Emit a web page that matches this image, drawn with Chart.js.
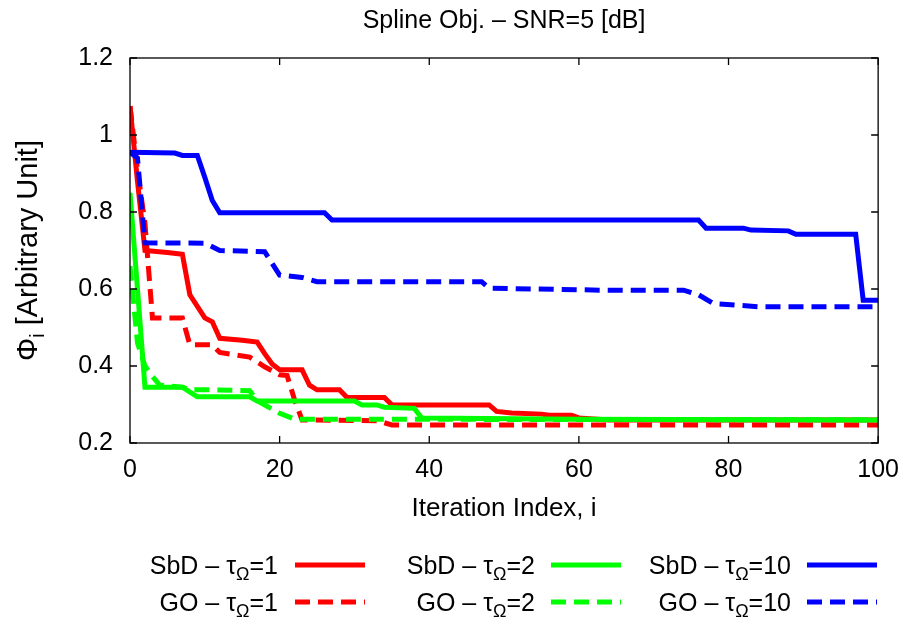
<!DOCTYPE html>
<html>
<head>
<meta charset="utf-8">
<title>Spline Obj. – SNR=5 [dB]</title>
<script src="https://cdn.jsdelivr.net/npm/chart.js@4.4.1/dist/chart.umd.min.js"></script>
<style>
  html, body { margin: 0; padding: 0; background: #fff; }
  #wrap { width: 911px; height: 624px; }
</style>
</head>
<body>
<div id="wrap"><canvas id="chart" width="911" height="624"></canvas></div>
<script>
// ── Data ──────────────────────────────────────────────────────────────────────

const sbd1Iter  = [0, 1, 2, 5, 7, 8, 10, 11, 12, 15, 17, 18, 19, 20, 23, 24, 25, 28, 29, 34, 35, 48, 49, 51, 55, 56, 59, 60, 64, 100];
const sbd1Val   = [1.075, 0.88, 0.70, 0.695, 0.69, 0.585, 0.525, 0.515, 0.472, 0.467, 0.462, 0.432, 0.405, 0.39, 0.39, 0.35, 0.338, 0.338, 0.318, 0.318, 0.299, 0.299, 0.282, 0.278, 0.275, 0.272, 0.272, 0.265, 0.26, 0.26];

const go1Iter   = [0, 1, 2, 3, 7, 8, 11, 12, 16, 18, 20, 21, 22, 23, 33, 35, 100];
const go1Val    = [1.075, 0.91, 0.77, 0.525, 0.525, 0.455, 0.455, 0.435, 0.423, 0.398, 0.377, 0.375, 0.312, 0.26, 0.258, 0.247, 0.247];

const sbd2Iter  = [0, 1, 2, 7, 9, 16, 17, 30, 31, 33, 34, 38, 39, 60, 100];
const sbd2Val   = [0.85, 0.60, 0.345, 0.345, 0.32, 0.32, 0.309, 0.309, 0.299, 0.299, 0.293, 0.29, 0.265, 0.262, 0.26];

const go2Iter   = [0, 1, 2, 3, 4, 7, 8, 11, 16, 17, 20, 22, 100];
const go2Val    = [0.66, 0.46, 0.40, 0.373, 0.35, 0.345, 0.338, 0.338, 0.336, 0.31, 0.277, 0.262, 0.26];

const sbd10Iter = [0, 6, 7, 9, 10, 11, 12, 26, 27, 76, 77, 82, 83, 88, 89, 97, 98, 100];
const sbd10Val  = [0.955, 0.953, 0.947, 0.947, 0.89, 0.83, 0.798, 0.798, 0.779, 0.779, 0.758, 0.758, 0.753, 0.751, 0.742, 0.742, 0.571, 0.571];

const go10Iter  = [0, 1, 2, 10, 12, 18, 20, 23, 25, 47, 48, 63, 74, 76, 78, 84, 100];
const go10Val   = [0.955, 0.94, 0.72, 0.719, 0.70, 0.697, 0.636, 0.630, 0.619, 0.619, 0.602, 0.597, 0.597, 0.585, 0.562, 0.554, 0.554];

const xTicks = [0, 20, 40, 60, 80, 100];
const yTicks = [0.2, 0.4, 0.6, 0.8, 1.0, 1.2];

// legend pieces: method – τ_Ω = value
const seriesMethod = ['SbD', 'GO', 'SbD', 'GO', 'SbD', 'GO'];
const seriesTau    = ['1', '1', '2', '2', '10', '10'];

const TITLE = 'Spline Obj. – SNR=5 [dB]';

// ── Style ─────────────────────────────────────────────────────────────────────

const FONT = '"Liberation Sans", Arial, Helvetica, sans-serif';
const RED = '#ff0000', GREEN = '#00ff00', BLUE = '#0000ff';
const DASH = [15, 8];

const LEG_TEXT_RIGHT = [278, 535, 791];
const LEG_LINE_X     = [295, 551, 807];
const LEG_LINE_LEN   = 70;
const LEG_ROW_Y      = [565, 602];

Chart.defaults.font.family = FONT;
Chart.defaults.color = '#000';

const pts = (xs, ys) => xs.map((x, k) => ({ x, y: ys[k] }));

function mkSet(label, xs, ys, color, dashed, order) {
  return {
    label,
    data: pts(xs, ys),
    borderColor: color,
    backgroundColor: color,
    borderWidth: 5,
    borderDash: dashed ? DASH : [],
    pointRadius: 0,
    tension: 0,
    fill: false,
    order,
  };
}

// ── Plugins ───────────────────────────────────────────────────────────────────

// box border + inward tick marks on all four sides
const framePlugin = {
  id: 'frame',
  afterDatasetsDraw(chart) {
    const { ctx, chartArea: a, scales: { x, y } } = chart;
    const tl = 7;
    ctx.save();
    ctx.strokeStyle = '#000';
    ctx.lineWidth = 1.3;
    ctx.strokeRect(a.left, a.top, a.right - a.left, a.bottom - a.top);
    ctx.beginPath();
    x.ticks.forEach(t => {
      const px = x.getPixelForValue(t.value);
      ctx.moveTo(px, a.bottom); ctx.lineTo(px, a.bottom - tl);
      ctx.moveTo(px, a.top);    ctx.lineTo(px, a.top + tl);
    });
    y.ticks.forEach(t => {
      const py = y.getPixelForValue(t.value);
      ctx.moveTo(a.left, py);  ctx.lineTo(a.left + tl, py);
      ctx.moveTo(a.right, py); ctx.lineTo(a.right - tl, py);
    });
    ctx.stroke();
    ctx.restore();
  },
};

// text with a subscript, drawn left-to-right from x (baseline y)
function drawSubText(ctx, parts, x, y) {
  let cx = x;
  parts.forEach(p => {
    ctx.font = `${p.size}px ${FONT}`;
    ctx.fillText(p.t, cx, y + (p.dy || 0));
    cx += ctx.measureText(p.t).width;
  });
}
function measureSubText(ctx, parts) {
  return parts.reduce((w, p) => {
    ctx.font = `${p.size}px ${FONT}`;
    return w + ctx.measureText(p.t).width;
  }, 0);
}

// title centred over the plot box, not the canvas
const titlePlugin = {
  id: 'plotTitle',
  afterDraw(chart) {
    const { ctx, chartArea: a } = chart;
    ctx.save();
    ctx.fillStyle = '#000';
    ctx.font = `25px ${FONT}`;
    ctx.textAlign = 'center';
    ctx.textBaseline = 'middle';
    ctx.fillText(TITLE, (a.left + a.right) / 2, 21);
    ctx.restore();
  },
};

const yTitlePlugin = {
  id: 'yTitle',
  afterDraw(chart) {
    const { ctx, chartArea: a } = chart;
    const parts = [
      { t: 'Φ', size: 29 },
      { t: 'i', size: 20, dy: 7 },
      { t: ' [Arbitrary Unit]', size: 29 },
    ];
    ctx.save();
    ctx.translate(37, (a.top + a.bottom) / 2);
    ctx.rotate(-Math.PI / 2);
    ctx.fillStyle = '#000';
    ctx.textAlign = 'left';
    ctx.textBaseline = 'alphabetic';
    const w = measureSubText(ctx, parts);
    drawSubText(ctx, parts, -w / 2, 0);
    ctx.restore();
  },
};

const legendPlugin = {
  id: 'rowLegend',
  afterDraw(chart) {
    const ctx = chart.ctx;
    ctx.save();
    ctx.fillStyle = '#000';
    ctx.textAlign = 'left';
    ctx.textBaseline = 'alphabetic';
    chart.data.datasets.forEach((ds, k) => {
      const col = Math.floor(k / 2), row = k % 2;
      const y = LEG_ROW_Y[row];
      const parts = [
        { t: `${seriesMethod[k]} – τ`, size: 25 },
        { t: 'Ω', size: 18, dy: 6 },
        { t: `=${seriesTau[k]}`, size: 25 },
      ];
      const w = measureSubText(ctx, parts);
      drawSubText(ctx, parts, LEG_TEXT_RIGHT[col] - w, y + 9);

      ctx.beginPath();
      ctx.strokeStyle = ds.borderColor;
      ctx.lineWidth = ds.borderWidth;
      ctx.setLineDash(ds.borderDash);
      ctx.moveTo(LEG_LINE_X[col], y);
      ctx.lineTo(LEG_LINE_X[col] + LEG_LINE_LEN, y);
      ctx.stroke();
      ctx.setLineDash([]);
    });
    ctx.restore();
  },
};

// ── Chart ─────────────────────────────────────────────────────────────────────

new Chart(document.getElementById('chart'), {
  type: 'line',
  data: {
    datasets: [
      mkSet('SbD – τΩ=1',  sbd1Iter,  sbd1Val,  RED,   false, 6),
      mkSet('GO – τΩ=1',   go1Iter,   go1Val,   RED,   true,  5),
      mkSet('SbD – τΩ=2',  sbd2Iter,  sbd2Val,  GREEN, false, 4),
      mkSet('GO – τΩ=2',   go2Iter,   go2Val,   GREEN, true,  3),
      mkSet('SbD – τΩ=10', sbd10Iter, sbd10Val, BLUE,  false, 2),
      mkSet('GO – τΩ=10',  go10Iter,  go10Val,  BLUE,  true,  1),
    ],
  },
  options: {
    responsive: false,
    animation: false,
    devicePixelRatio: 1,
    layout: { padding: { left: 0, right: 31, top: 58, bottom: 96 } },
    plugins: {
      legend: { display: false },
      tooltip: { enabled: false },
      title: { display: false },
    },
    scales: {
      x: {
        type: 'linear',
        min: 0,
        max: 100,
        afterBuildTicks: s => { s.ticks = xTicks.map(v => ({ value: v })); },
        afterFit: s => { s.height = 85; },
        ticks: { color: '#000', font: { size: 25 }, padding: 12, maxRotation: 0 },
        grid: { display: false, drawTicks: false },
        border: { display: false },
        title: {
          display: true,
          text: 'Iteration Index, i',
          color: '#000',
          font: { size: 26 },
          padding: { top: 0, bottom: 4 },
        },
      },
      y: {
        type: 'linear',
        min: 0.2,
        max: 1.2,
        afterBuildTicks: s => { s.ticks = yTicks.map(v => ({ value: v })); },
        afterFit: s => { s.width = 130; },
        ticks: {
          color: '#000',
          font: { size: 25 },
          padding: 17,
          callback: v => String(Number(v.toFixed(1))),
        },
        grid: { display: false, drawTicks: false },
        border: { display: false },
      },
    },
  },
  plugins: [framePlugin, titlePlugin, yTitlePlugin, legendPlugin],
});
</script>
</body>
</html>
